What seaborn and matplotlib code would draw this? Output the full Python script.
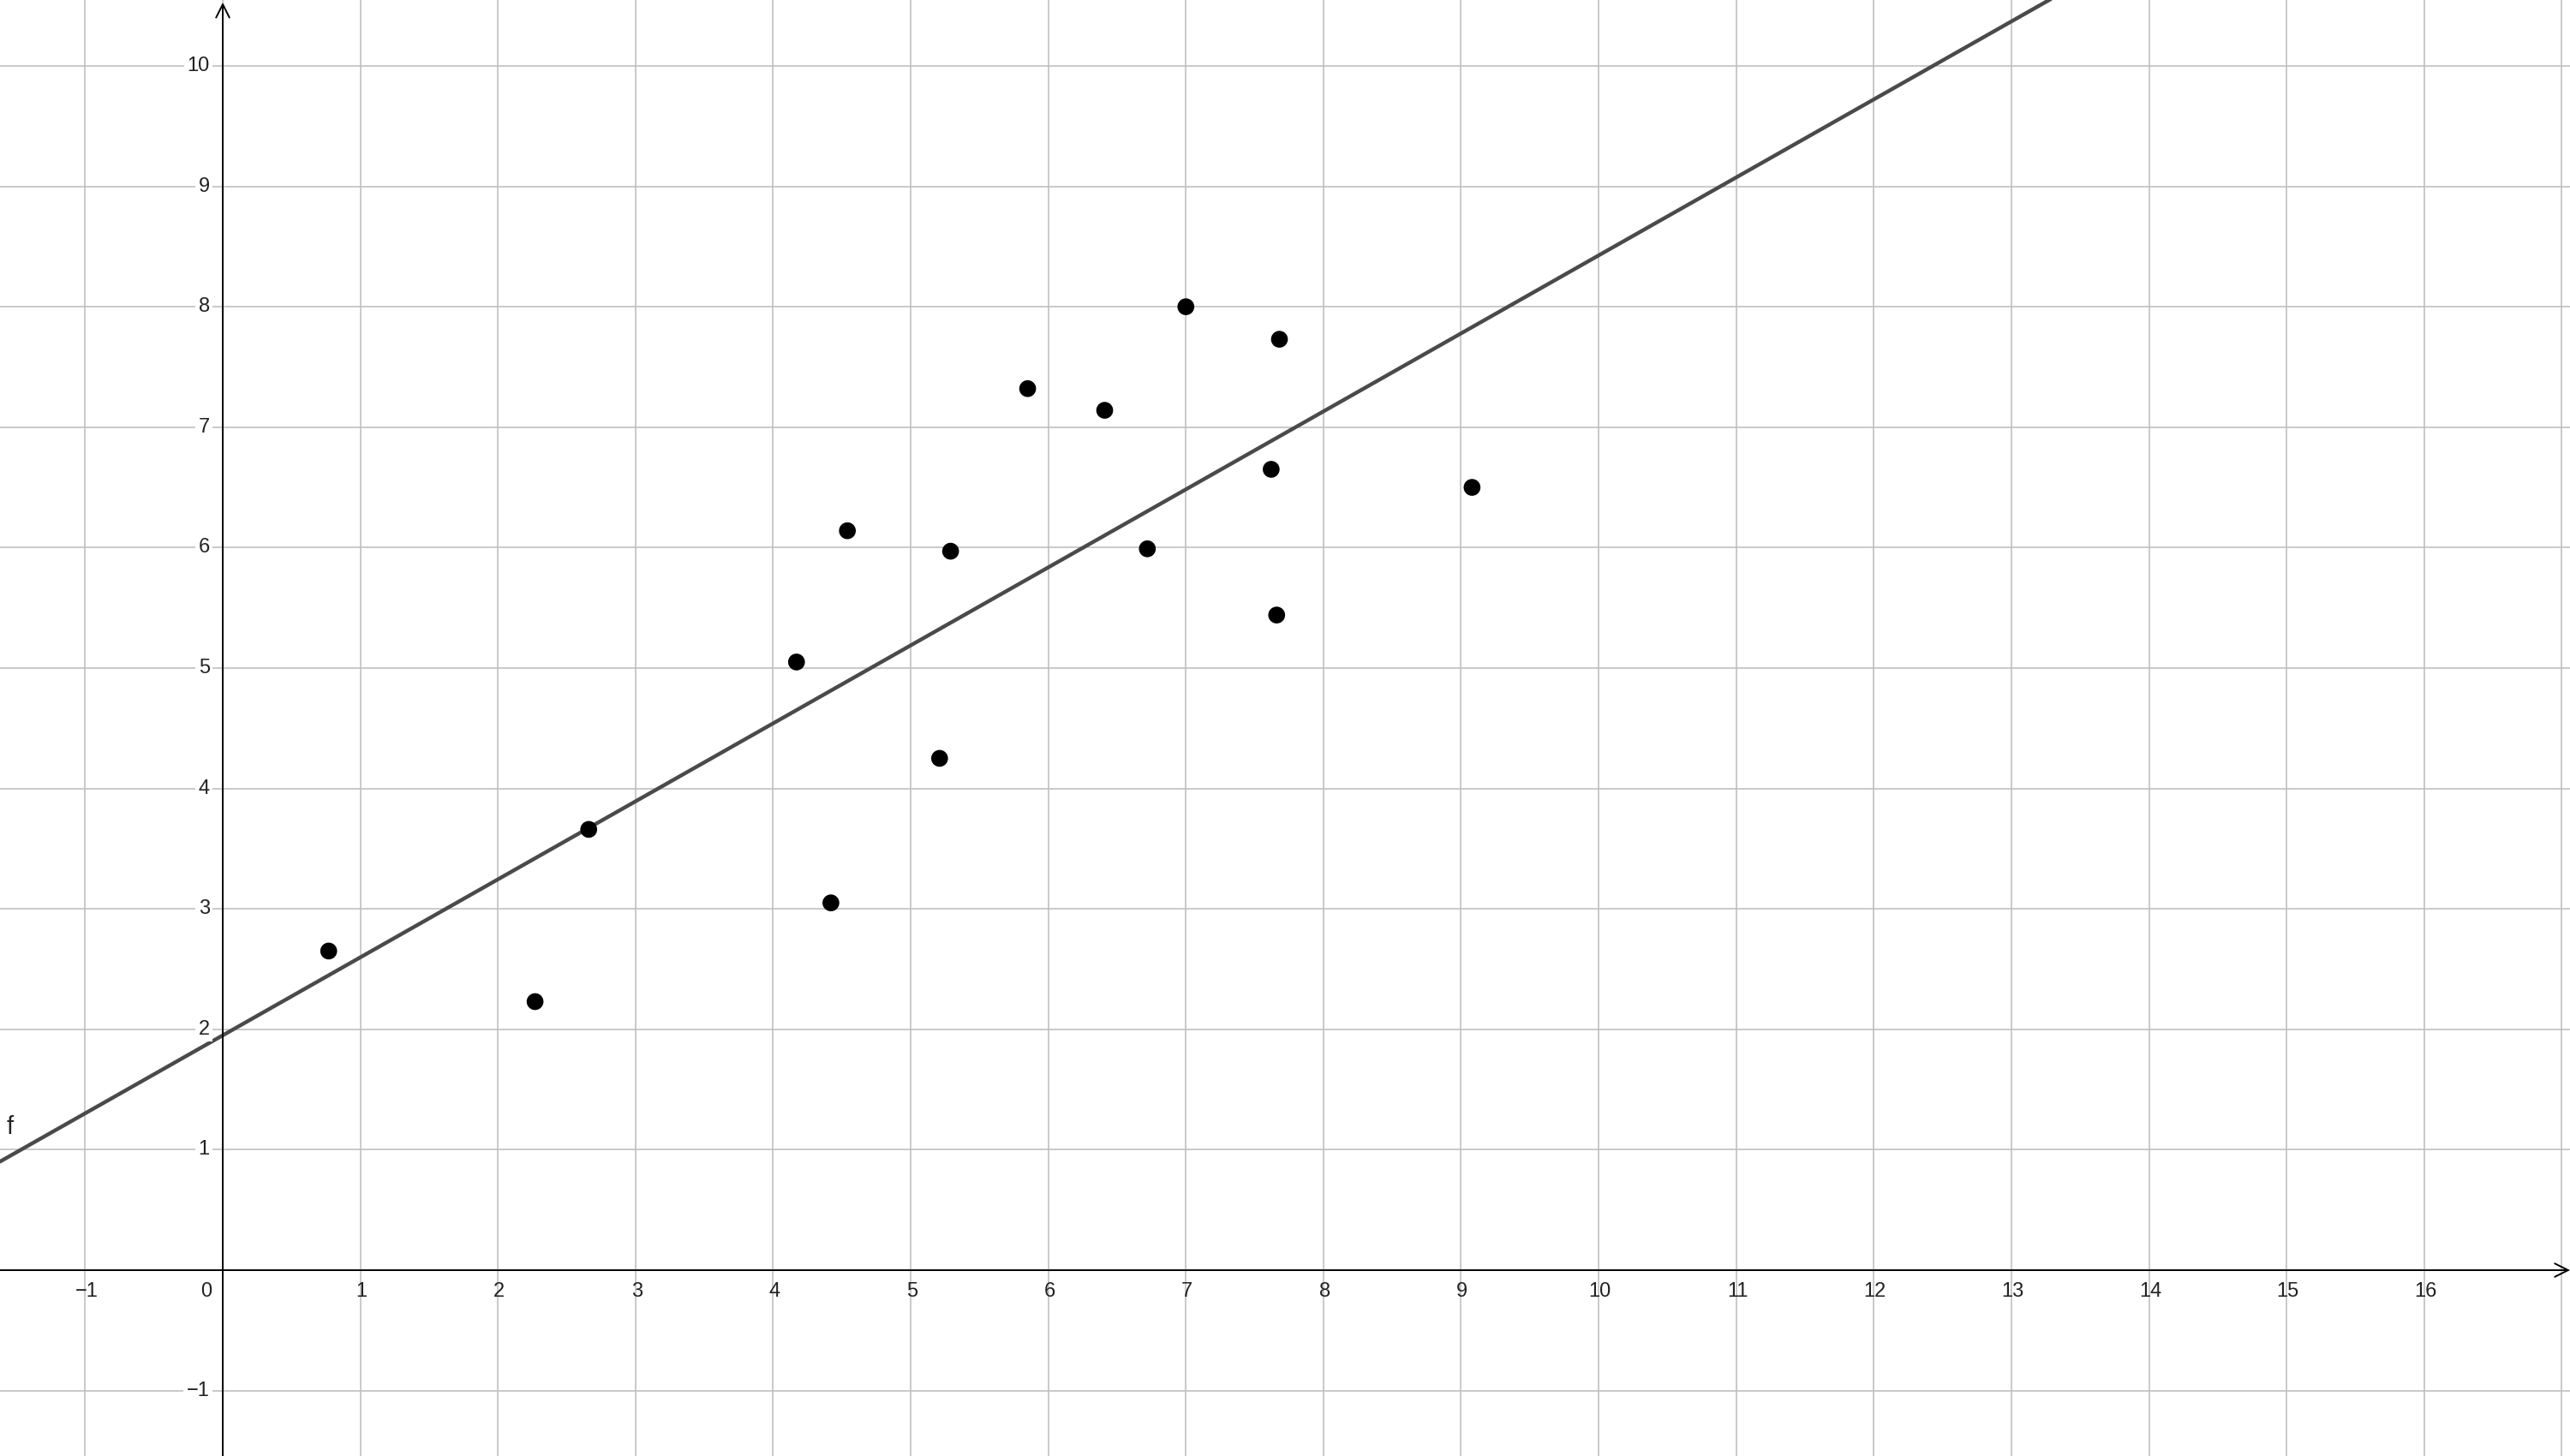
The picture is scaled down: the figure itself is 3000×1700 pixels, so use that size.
import numpy as np
import pandas as pd
import seaborn as sns
import matplotlib.pyplot as plt

# Data points
x_vals = [0.77, 2.27, 2.66, 4.17, 4.42, 4.54, 5.21, 5.29, 5.85, 6.41, 6.72, 7.00, 7.62, 7.66, 7.68, 9.08]
y_vals = [2.65, 2.23, 3.66, 5.05, 3.05, 6.14, 4.25, 5.97, 7.32, 7.14, 5.99, 8.00, 6.65, 5.44, 7.73, 6.50]

x_ticks = list(range(-1, 17))
y_ticks = list(range(-1, 11))

df = pd.DataFrame({'x': x_vals, 'y': y_vals})

sns.set_style('white')
plt.rcParams['font.family'] = ['Liberation Sans', 'DejaVu Sans']

fig = plt.figure(figsize=(30, 17), dpi=100)
ax = fig.add_axes([0, 0, 1, 1])
xmin, xmax = -1.619, 17.06
ymin, ymax = -1.543, 10.547
ax.set_xlim(xmin, xmax)
ax.set_ylim(ymin, ymax)
for s in ax.spines.values():
    s.set_visible(False)
ax.set_xticks([])
ax.set_yticks([])

# grid
grid_col = '#c0c0c0'
for k in range(-1, 18):
    ax.axvline(k, color=grid_col, lw=1.2, zorder=0)
for k in range(-1, 11):
    ax.axhline(k, color=grid_col, lw=1.2, zorder=0)

# axes with arrows
ax.annotate('', xy=(xmax, 0), xytext=(xmin, 0),
            arrowprops=dict(arrowstyle='->', lw=1.4, color='black', mutation_scale=28,
                            shrinkA=0, shrinkB=0), zorder=3)
ax.annotate('', xy=(0, ymax - 0.02), xytext=(0, ymin),
            arrowprops=dict(arrowstyle='->', lw=1.4, color='black', mutation_scale=28,
                            shrinkA=0, shrinkB=0), zorder=3)

# tick labels
def lab(v):
    return str(v).replace('-', '\u2212')

for k in x_ticks:
    if k == 0:
        continue
    ax.annotate(lab(k), (k, 0), xytext=(1, -10), textcoords='offset points',
                ha='center', va='top', fontsize=17, color='#222222', zorder=4)
ax.annotate('0', (0, 0), xytext=(-9, -10), textcoords='offset points',
            ha='right', va='top', fontsize=17, color='#222222', zorder=4)
for k in y_ticks:
    if k == 0:
        continue
    ax.annotate(lab(k), (0, k), xytext=(-11, 0), textcoords='offset points',
                ha='right', va='center', fontsize=17, color='#222222', zorder=4,
                bbox=dict(boxstyle='square,pad=0.15', fc='white', ec='none'))

# regression line f
sns.regplot(data=df, x='x', y='y', scatter=False, ci=None, truncate=False,
            line_kws=dict(color='#4a4a4a', lw=3.2, zorder=2), ax=ax)
ax.set_xlim(xmin, xmax)
ax.set_ylim(ymin, ymax)

sns.scatterplot(data=df, x='x', y='y', color='black', s=200, edgecolor='none', zorder=5, ax=ax)
ax.set_xlabel('')
ax.set_ylabel('')

ax.text(-1.548, 1.19, 'f', fontsize=21, color='#222222', ha='center', va='center')

fig.savefig('out.png', dpi=100)
